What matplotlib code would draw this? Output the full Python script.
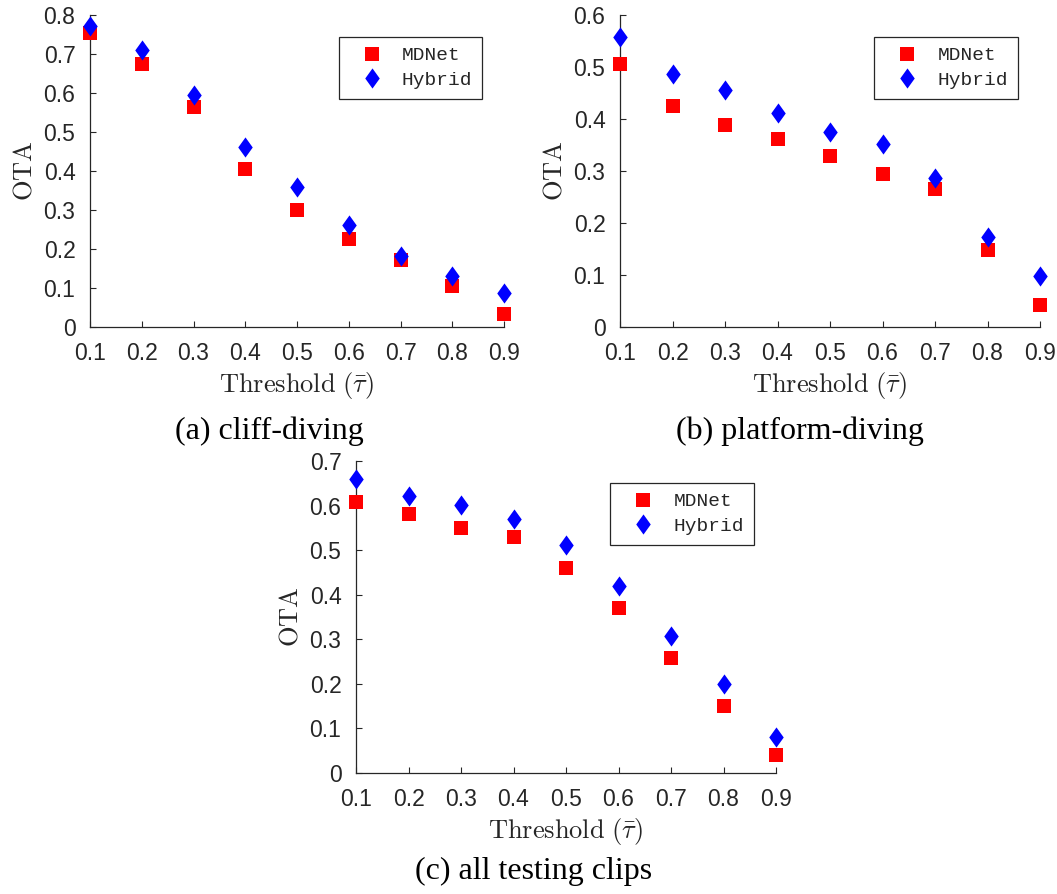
import numpy as np
import matplotlib
matplotlib.use('Agg')
import matplotlib.pyplot as plt
from matplotlib.path import Path
from matplotlib.ticker import FormatStrFormatter, FuncFormatter

plt.rcParams['mathtext.fontset'] = 'cm'

thresholds = [0.1, 0.2, 0.3, 0.4, 0.5, 0.6, 0.7, 0.8, 0.9]

# cliff-diving
mdnet_cliff = [0.755, 0.675, 0.564, 0.406, 0.301, 0.225, 0.171, 0.106, 0.034]
hybrid_cliff = [0.772, 0.710, 0.594, 0.461, 0.359, 0.261, 0.181, 0.132, 0.087]

# platform-diving
mdnet_platform = [0.506, 0.425, 0.389, 0.362, 0.329, 0.295, 0.265, 0.149, 0.042]
hybrid_platform = [0.558, 0.487, 0.455, 0.412, 0.375, 0.352, 0.286, 0.173, 0.099]

# all testing clips
mdnet_all = [0.608, 0.582, 0.550, 0.530, 0.460, 0.371, 0.258, 0.150, 0.040]
hybrid_all = [0.659, 0.621, 0.601, 0.570, 0.512, 0.419, 0.308, 0.200, 0.080]

captions = ['(a) cliff-diving', '(b) platform-diving', '(c) all testing clips']
ylims = [0.8, 0.6, 0.7]
labels = ['MDNet', 'Hybrid']

# matlab style diamond, a bit narrower than tall
diamond = Path([(0, 1), (0.72, 0), (0, -1), (-0.72, 0), (0, 1)],
               [Path.MOVETO, Path.LINETO, Path.LINETO, Path.LINETO, Path.CLOSEPOLY])

W, H = 1057, 894
fig = plt.figure(figsize=(W / 100, H / 100), dpi=100)

# axes boxes in pixels: left, top, right, bottom
boxes = [(90, 15, 504, 327), (620, 15, 1040, 327), (356, 461, 776, 773)]
caption_pos = [(269, 431), (800, 431), (534, 871)]
data = [(mdnet_cliff, hybrid_cliff), (mdnet_platform, hybrid_platform), (mdnet_all, hybrid_all)]

axcol = '#262626'
for k in range(3):
    l, t, r, b = boxes[k]
    ax = fig.add_axes([l / W, 1 - b / H, (r - l) / W, (b - t) / H])
    md, hy = data[k]
    ax.plot(thresholds, md, linestyle='none', marker='s', markersize=9.5,
            color='#ff0000', markeredgewidth=0, clip_on=False, label=labels[0], zorder=3)
    ax.plot(thresholds, hy, linestyle='none', marker=diamond, markersize=14.5,
            color='#0000ff', markeredgewidth=0, clip_on=False, label=labels[1], zorder=4)
    ax.set_xlim(0.1, 0.9)
    ax.set_ylim(0, ylims[k])
    ax.set_xticks(thresholds)
    ax.set_yticks(np.arange(0, ylims[k] + 0.05, 0.1))
    ax.xaxis.set_major_formatter(FormatStrFormatter('%.1f'))
    ax.yaxis.set_major_formatter(FuncFormatter(lambda v, p: '0' if abs(v) < 1e-9 else '%.1f' % v))
    for s in ['top', 'right']:
        ax.spines[s].set_visible(False)
    for s in ['left', 'bottom']:
        ax.spines[s].set_color(axcol)
        ax.spines[s].set_linewidth(0.9)
    ax.tick_params(direction='in', length=4, width=0.8, color=axcol,
                   labelcolor=axcol, labelsize=16.5)
    ax.tick_params(axis='x', pad=10.5)
    ax.tick_params(axis='y', pad=10.5)
    for lab in ax.get_xticklabels() + ax.get_yticklabels():
        lab.set_fontfamily('Liberation Sans')
    ax.set_ylabel(r'$\mathrm{OTA}$', fontsize=19, color=axcol, labelpad=4.5)
    ax.set_xlabel(r'$\mathrm{Threshold}\ (\bar{\tau})$', fontsize=19, color=axcol, labelpad=4)
    leg = ax.legend(loc='upper right', bbox_to_anchor=(0.947, 0.929), borderaxespad=0,
                    fancybox=False, framealpha=1, edgecolor=axcol,
                    prop={'family': 'Liberation Mono', 'size': 14},
                    handletextpad=0.35, borderpad=0.5, labelspacing=0.35,
                    handlelength=2.4, numpoints=1)
    leg.get_frame().set_linewidth(0.9)
    for txt in leg.get_texts():
        txt.set_color(axcol)
    cx, cy = caption_pos[k]
    fig.text(cx / W, 1 - cy / H, captions[k], ha='center', va='center',
             fontsize=23, family='Liberation Serif', color='black')

fig.savefig('out.png', dpi=100)
